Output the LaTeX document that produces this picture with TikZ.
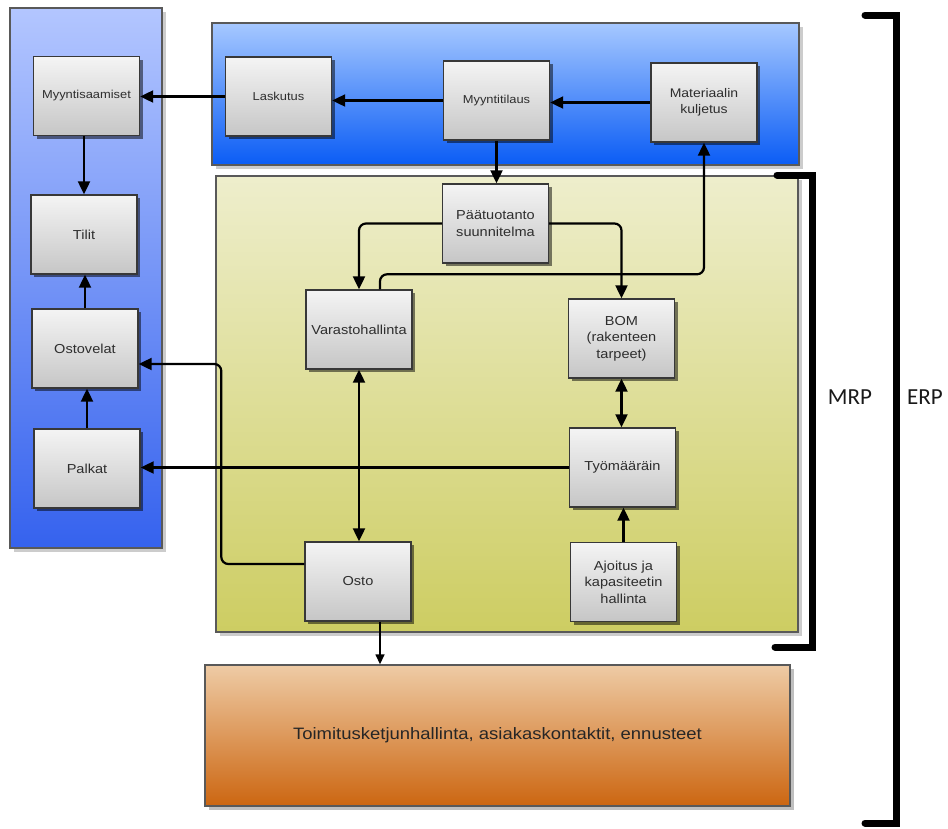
\documentclass[tikz,border=0pt]{standalone}
\usepackage{fontspec}
\setmainfont{Liberation Sans}[FakeStretch=1.12]
\newfontfamily\calfont{Carlito}
\usetikzlibrary{arrows.meta,shadows,calc}
\definecolor{txt}{HTML}{2E2E2E}
\definecolor{lpTop}{HTML}{B3C6FF}
\definecolor{lpBot}{HTML}{3562EE}
\definecolor{tpTop}{HTML}{A6C8FF}
\definecolor{tpBot}{HTML}{0A5CF5}
\definecolor{ypTop}{HTML}{EEEECC}
\definecolor{ypBot}{HTML}{CDCD62}
\definecolor{orTop}{HTML}{EECBA5}
\definecolor{orBot}{HTML}{CC6611}
\definecolor{bxTop}{HTML}{F4F4F4}
\definecolor{bxBot}{HTML}{C6C6C6}
\begin{document}
\begin{tikzpicture}[x=1pt,y=-1pt,
  box/.style={draw=black!78, line width=1.4pt, top color=bxTop, bottom color=bxBot,
    minimum width=106pt, minimum height=79pt, inner sep=2pt, align=center, text=txt,
    font=\fontsize{13}{16.5}\selectfont,
    drop shadow={shadow xshift=3pt, shadow yshift=-3pt, opacity=0.5, fill=black}},
  smalltext/.style={font=\fontsize{11.5}{15}\selectfont},
  panel/.style={draw=black!65, line width=1.4pt,
    drop shadow={shadow xshift=4pt, shadow yshift=-4pt, opacity=0.2, fill=black}},
  arr/.style={-{Triangle[length=13pt,width=12pt]}, line width=2.2pt},
  darr/.style={{Triangle[length=13pt,width=12pt]}-{Triangle[length=13pt,width=12pt]}, line width=2.2pt},
  thinarr/.style={-{Triangle[length=10pt,width=9pt]}, line width=1.5pt},
  bracket/.style={line width=7pt, line cap=round, line join=miter},
  side/.style={font=\calfont\fontsize{23}{27}\selectfont, text=black!90}
]
\useasboundingbox (0,0) rectangle (948,828);

% panels
\path[panel, top color=lpTop, bottom color=lpBot] (10,8) rectangle (162,548);
\path[panel, top color=tpTop, bottom color=tpBot] (212,23) rectangle (799,165);
\path[panel, top color=ypTop, bottom color=ypBot] (216,176) rectangle (798,632);

% boxes
\node[box, smalltext] (msa) at (86.5,96) {Myyntisaamiset};
\node[box] (tilit) at (84,234.5) {Tilit};
\node[box] (ostov) at (85,348.5) {Ostovelat};
\node[box] (palk) at (87,468.5) {Palkat};
\node[box, smalltext] (lask) at (278.5,96.5) {Laskutus};
\node[box, smalltext] (myt) at (496.5,100.5) {Myyntitilaus};
\node[box, font=\fontsize{12.5}{16.5}\selectfont] (mat) at (704,102.5) {Materiaalin\\kuljetus};
\node[box] (paa) at (495.5,223.5) {Päätuotanto\\suunnitelma};
\node[box] (var) at (359,329.5) {Varastohallinta};
\node[box] (bom) at (621.5,338.5) {BOM\\(rakenteen\\tarpeet)};
\node[box] (tyo) at (622.5,467.5) {Työmääräin};
\node[box] (ajo) at (623.5,582) {Ajoitus ja\\kapasiteetin\\hallinta};
\node[box] (osto) at (358,581.5) {Osto};
\node[draw=black!65, line width=1.4pt, top color=orTop, bottom color=orBot,
  minimum width=585pt, minimum height=141pt, text=black!85,
  font=\fontsize{16.5}{20}\selectfont,
  drop shadow={shadow xshift=4pt, shadow yshift=-4pt, opacity=0.25, fill=black}]
  (org) at (497.5,735.5) {Toimitusketjunhallinta, asiakaskontaktit, ennusteet};

% connectors
\draw[arr] (lask.west) -- (lask.west -| msa.east);
\draw[arr] (myt.west) -- (myt.west -| lask.east);
\draw[arr] (mat.west) -- (mat.west -| myt.east);
\draw[arr] (myt.south) -- (myt.south |- paa.north);
\draw[arr, rounded corners=7pt] (paa.west) -| (var.north);
\draw[arr, rounded corners=7pt] (paa.east) -| (bom.north);
\draw[arr, rounded corners=7pt] ([xshift=21pt]var.north) -- ++(0,-15) -| (mat.south);
\draw[darr] (var.south) -- (var.south |- osto.north);
\draw[darr] (bom.south) -- (bom.south |- tyo.north);
\draw[arr] (ajo.north) -- (ajo.north |- tyo.south);
\draw[arr] (tyo.west) -- (tyo.west -| palk.east);
\draw[arr, rounded corners=7pt] ([yshift=17.5pt]osto.west) -- ++(-83,0) |- ([yshift=-15.5pt]ostov.east);
\draw[thinarr] ([xshift=22pt]osto.south) -- ([xshift=22pt]osto.south |- org.north);
\draw[arr] (tilit.north |- msa.south) -- (tilit.north);
\draw[arr] (ostov.north) -- (ostov.north |- tilit.south);
\draw[arr] (palk.north) -- (palk.north |- ostov.south);

% brackets
\draw[bracket] (777,175) -- (812,175) -- (812,647) -- (775,647);
\draw[bracket] (865,15) -- (896,15) -- (896,823) -- (865,823);
\node[side] (mrp) at (850,397) {MRP};
\node[side] (erp) at (925,397) {ERP};
\end{tikzpicture}
\end{document}
